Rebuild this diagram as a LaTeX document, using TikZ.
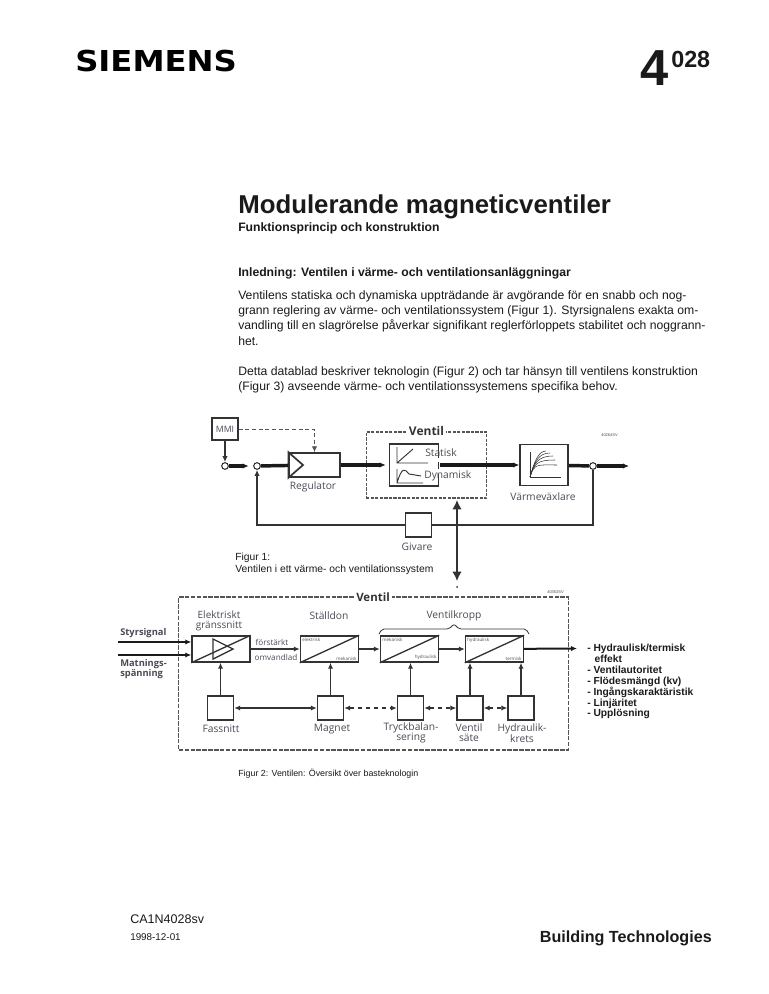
\documentclass[tikz,border=0pt]{standalone}
\usepackage{fontspec}
\usepackage{graphicx}
\setmainfont{Liberation Sans}
\newfontfamily\figfont{Open Sans}
\newfontfamily\logofont{DejaVu Sans}
\usetikzlibrary{arrows.meta,calc,positioning}
\definecolor{svart}{HTML}{1A1A1A}
\definecolor{linjeGra}{HTML}{333333}
\definecolor{textGra}{HTML}{4A4A55}
\definecolor{streckGra}{HTML}{555555}
\begin{document}
\begin{tikzpicture}[x=0.75pt,y=-0.75pt,>={Latex[length=4.5pt,width=4pt]},
  every node/.style={inner sep=0pt},
  rubrik/.style={font=\bfseries,text=svart},
  brod/.style={anchor=north west,align=left,text=svart,font=\fontsize{9.15}{11.5}\selectfont},
  figtext/.style={font=\figfont\fontsize{7.7}{7.6}\selectfont,text=textGra,align=center},
  smatt/.style={font=\figfont\fontsize{3.4}{4}\selectfont,text=textGra,inner sep=1.8pt},
  ruta/.style={draw=linjeGra,line width=1.1pt,minimum width=19.5pt,minimum height=18pt},
  storruta/.style={draw=linjeGra,line width=1.1pt,minimum width=43.5pt,minimum height=19.5pt},
  ram/.style={draw=streckGra,line width=0.8pt,dash pattern=on 2.4pt off 1pt},
  tunn/.style={draw=linjeGra,line width=1pt},
  tjock/.style={draw=svart,line width=2.6pt},
  mellan/.style={draw=svart,line width=1.5pt},
  graf/.style={draw=linjeGra,line width=0.7pt},
  hal/.style={circle,draw=linjeGra,fill=white,line width=0.8pt,minimum size=5pt},
  pil/.style={tunn,->},
  dubbelpil/.style={tunn,<->},
  strpil/.style={tunn,<->,dashed}]
\useasboundingbox (0,0) rectangle (768,994);
\node[anchor=base west,font=\logofont\bfseries\fontsize{21.6}{24}\selectfont,text=black] (siemens) at (75,72) {\scalebox{1.12}[1]{SIEMENS}};
\node[rubrik,anchor=base west,font=\bfseries\fontsize{38}{40}\selectfont] (nr) at (640,86) {4};
\node[rubrik,anchor=base west,font=\bfseries\fontsize{17.5}{18}\selectfont] (nrb) at (671,68) {028};
\node[rubrik,anchor=base west,font=\bfseries\fontsize{19.35}{20}\selectfont] (titel) at (238,214) {Modulerande magneticventiler};
\node[rubrik,anchor=base west,font=\bfseries\fontsize{9.15}{10}\selectfont] (under) at (238,232) {Funktionsprincip och konstruktion};
\node[rubrik,anchor=base west,font=\bfseries\fontsize{9.15}{10}\selectfont] (inl) at (238,277) {Inledning: Ventilen i värme- och ventilationsanläggningar};
\node[brod] (sty) at (238,290) {Ventilens statiska och dynamiska uppträdande är avgörande för en snabb och nog-\\grann reglering av värme- och ventilationssystem (Figur 1). Styrsignalens exakta om-\\vandling till en slagrörelse påverkar signifikant reglerförloppets stabilitet och noggrann-\\het.};
\node[brod] (blad) at (238,366) {Detta datablad beskriver teknologin (Figur 2) och tar hänsyn till ventilens konstruktion\\(Figur 3) avseende värme- och ventilationssystemens specifika behov.};

\node[ruta,minimum height=16.5pt,figtext,font=\figfont\fontsize{6.6}{7}\selectfont] (mmi) at (225,429) {MMI};
\node[hal] (c1) at (225,466) {};
\node[hal] (c2) at (257,466) {};
\node[draw=linjeGra,line width=1.1pt,minimum width=38pt,minimum height=18pt] (reg) at (314.5,465) {};
\node[figtext] (regt) at (313,487) {Regulator};
\node[ram,minimum width=90.5pt,minimum height=49.5pt] (vent) at (426.5,465) {};
\node[rubrik,fill=white,inner xsep=1.5pt,font=\figfont\bfseries\fontsize{9}{10}\selectfont,text=linjeGra] (ventt) at (vent.north) {Ventil};
\node[minimum width=36pt,minimum height=31pt] (sd) at (414,465) {};
\draw[tunn] ($(sd.east)+(0,-7)$) |- (sd.north west) -- (sd.south west) -| ($(sd.east)+(0,9)$);
\draw[tunn] ($(sd.east)+(0,-3)$) -- ($(sd.east)+(0,4)$);
\draw[graf] (397,447) -- (397,463) -- (428,463) (397,463) -- (413,449);
\draw[graf] (397,469) -- (397,483) -- (423,483) (397,483) .. controls (402,466) and (405,469) .. (409,474) -- (421,476);
\node[figtext,anchor=west] (stat) at (425,453) {Statisk};
\node[figtext,anchor=west] (dyn) at (424,476) {Dynamisk};
\node[draw=linjeGra,line width=1.1pt,minimum width=36pt,minimum height=31pt] (vvx) at (544,465) {};
\draw[graf] (530,452) -- (530,477) -- (561,477);
\foreach \x/\y in {546/451,550/453,553/456,555/460,557/465}
  \draw[linjeGra,line width=0.4pt] (530,477) .. controls (534,463) and (538,\y) .. (\x,\y);
\node[figtext] (vvxt) at (543,497) {Värmeväxlare};
\node[hal] (c3) at (593,466) {};
\coordinate (ut1) at (629,466);
\coordinate (pilN) at (457,500);
\coordinate (pilS) at (457,581);
\node[ruta] (giv) at (418.5,525) {};
\node[figtext] (givt) at (417,547) {Givare};
\draw[line width=1.3pt,linjeGra] (reg.north west) -- (303,465) -- (reg.south west) -- cycle;
\draw[pil] (mmi) -- (c1);
\draw[tjock,->,shorten >=1pt] (c1) -- ($(c2)+(-7,0)$);
\draw[tjock] (c2) -- (reg);
\draw[tjock,->,shorten >=3pt] (reg) -- (sd.west);
\draw[tjock,->,shorten <=1.5pt] (sd.east) -- (vvx.west);
\draw[tjock] (vvx) -- (c3);
\draw[tjock,->] (c3) -- (ut1);
\draw[pil,densely dashed,draw=streckGra,line width=0.7pt] (mmi) -| (reg);
\draw[tunn] (c3) |- (giv);
\draw[pil] (giv) -| (c2);
\draw[tunn,{Latex[length=7pt,width=7pt]}-{Latex[length=7pt,width=7pt]}] (pilN) -- (pilS);
\node[circle,fill=linjeGra,minimum size=1.5pt] (prick) at (457,587) {};
\node[anchor=base west,font=\fontsize{3}{3}\selectfont,text=textGra] (id1) at (601,436) {40264SV};
\node[anchor=north west,font=\fontsize{7.75}{9}\selectfont,align=left,text=svart] (fig1) at (235,553) {Figur 1:\\Ventilen i ett värme- och ventilationssystem};

\node[ram,dash pattern=on 3.4pt off 1pt,minimum width=292pt,minimum height=114.75pt] (vent2) at (373.5,673.5) {};
\node[rubrik,fill=white,inner xsep=2pt,font=\figfont\bfseries\fontsize{8.6}{10}\selectfont,text=linjeGra] (vent2t) at (373,597) {Ventil};
\node[anchor=base west,font=\fontsize{3}{3}\selectfont,text=textGra] (id2) at (547,593) {40353SV};
\node[storruta] (elgr) at (221,649) {};
\draw[tunn] (elgr.south west) -- (elgr.north east);
\draw[tunn] (213,639) -- (233,649) -- (213,659) -- cycle;
\node[storruta] (stall) at (329.5,649) {};
\node[storruta] (kropp1) at (409.5,649) {};
\node[storruta] (kropp2) at (494.5,649) {};
\foreach \n/\o/\u in {stall/elektrisk/mekanisk,kropp1/mekanisk/hydraulisk,kropp2/hydraulisk/termisk} {
  \draw[tunn] (\n.south west) -- (\n.north east);
  \node[smatt,anchor=north west] at (\n.north west) {\o};
  \node[smatt,anchor=south east] at (\n.south east) {\u};
}
\node[figtext,font=\figfont\fontsize{7.5}{7.6}\selectfont] (elgrt) at (219,621) {Elektriskt\\gränssnitt};
\node[figtext] (stallt) at (329,616) {Ställdon};
\node[figtext] (kroppt) at (454,616) {Ventilkropp};
\draw[linjeGra,line width=0.6pt,rounded corners=1.5pt] (379,634) -- (382,629) -- (449,629) -- (454,624) -- (459,629) -- (526,629) -- (529,634);
\node[figtext,font=\figfont\fontsize{6.1}{6}\selectfont] (forst) at (272,642) {förstärkt};
\node[figtext,font=\figfont\fontsize{6.1}{6}\selectfont] (omv) at (276,657) {omvandlad};
\node[figtext,anchor=west,font=\figfont\bfseries\fontsize{7}{7}\selectfont] (styrt) at (120,633) {Styrsignal};
\node[figtext,anchor=north west,align=left,font=\figfont\bfseries\fontsize{7}{7.4}\selectfont] (matnt) at (120,659) {Matnings-\\spänning};
\coordinate (styr) at (118,642);
\coordinate (matn) at (118,655);
\coordinate (ut2) at (577,648.5);
\draw[mellan,->] (styr) -- (elgr.west |- styr);
\draw[mellan,->] (matn) -- (elgr.west |- matn);
\draw[pil] (elgr) -- (stall);
\draw[pil] (stall) -- (kropp1);
\draw[pil] (kropp1) -- (kropp2);
\draw[mellan,->] (kropp2) -- (ut2);
\node[ruta] (fass) at (220.5,708) {};
\node[ruta] (magn) at (330.5,708) {};
\node[ruta] (tryck) at (410.5,708) {};
\node[ruta] (sate) at (470,708) {};
\node[ruta] (hydr) at (521,708) {};
\node[figtext] (fasst) at (221,729) {Fassnitt};
\node[figtext] (magnt) at (332,729) {Magnet};
\node[figtext] (tryckt) at (411,733) {Tryckbalan-\\sering};
\node[figtext] (satet) at (469,733) {Ventil\\säte};
\node[figtext] (hydrt) at (522,733) {Hydraulik-\\krets};
\foreach \n/\m in {fass/elgr,magn/stall,tryck/kropp1,sate/kropp2,hydr/kropp2}
  \draw[pil] (\n.north) -- (\n.north |- \m.south);
\draw[dubbelpil] (fass) -- (magn);
\foreach \n/\m in {magn/tryck,tryck/sate,sate/hydr} \draw[strpil] (\n) -- (\m);
\node[anchor=north west,align=left,font=\bfseries\fontsize{7.7}{8.15}\selectfont,text=svart] (lista) at (587,644) {- Hydraulisk/termisk\\\hspace*{0.72em}effekt\\- Ventilautoritet\\- Flödesmängd (kv)\\- Ingångskaraktäristik\\- Linjäritet\\- Upplösning};
\node[anchor=base west,font=\fontsize{6.65}{8}\selectfont,text=svart] (fig2) at (238,776) {Figur 2: Ventilen: Översikt över basteknologin};

\node[anchor=base west,font=\fontsize{9.4}{10}\selectfont,text=svart] (kod) at (130,923) {CA1N4028sv};
\node[anchor=base west,font=\fontsize{7.4}{10}\selectfont,text=svart] (datum) at (130,940) {1998-12-01};
\node[rubrik,anchor=base east,font=\bfseries\fontsize{12.1}{12}\selectfont] (bt) at (712,942) {Building Technologies};
\end{tikzpicture}
\end{document}
